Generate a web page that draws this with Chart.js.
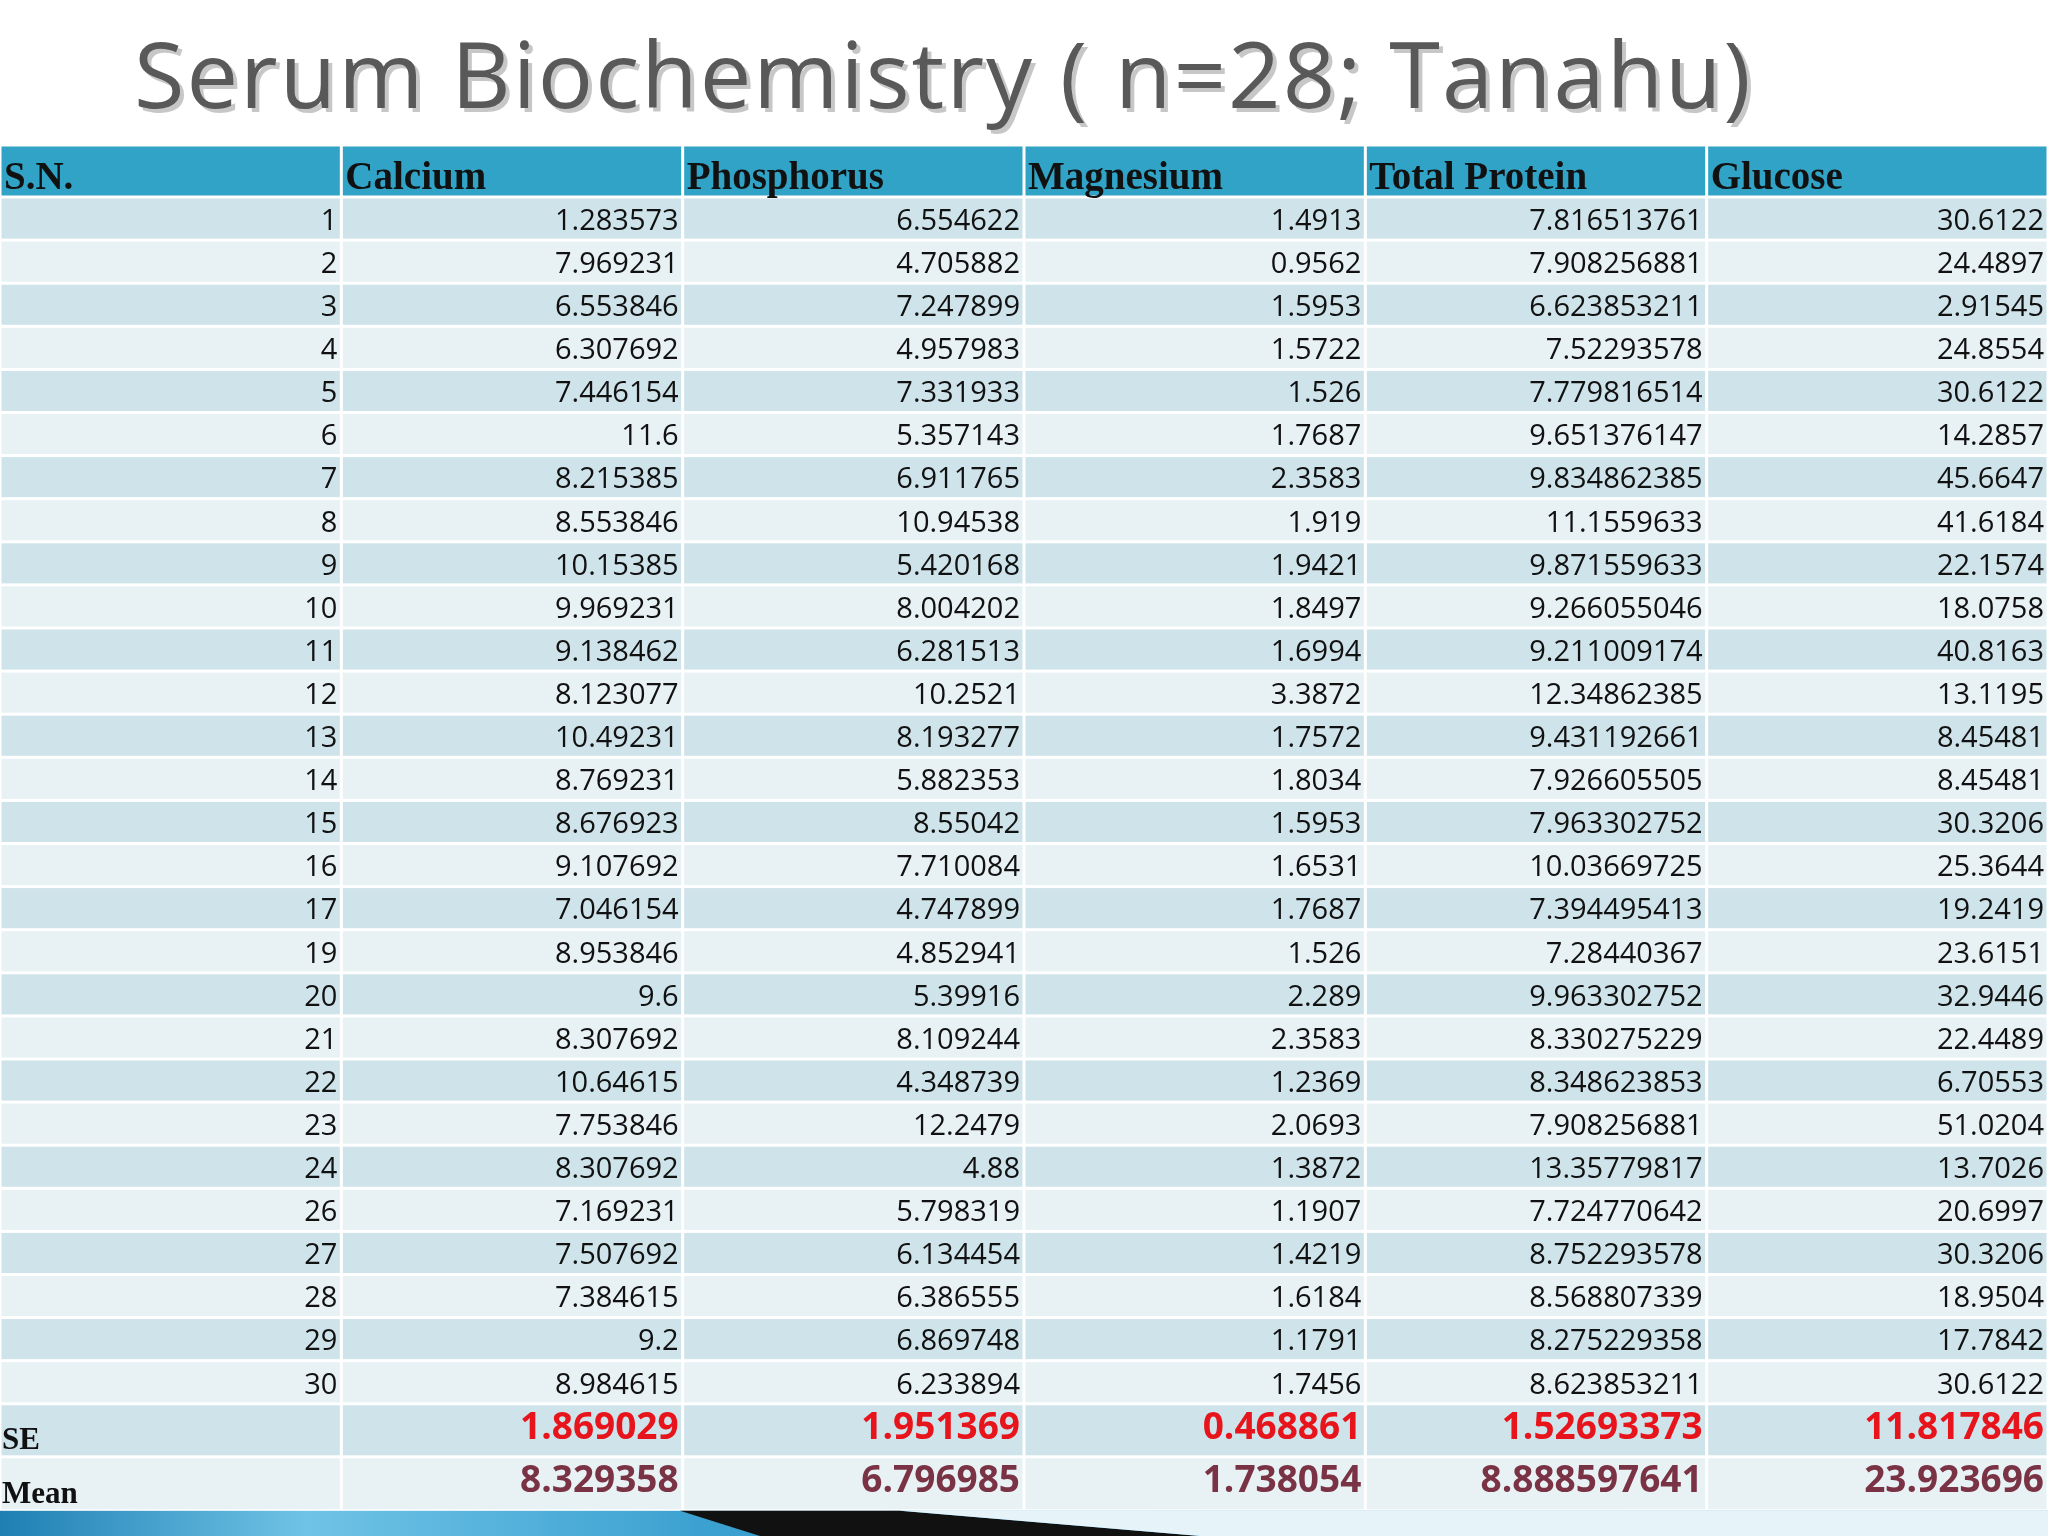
<!DOCTYPE html>
<html>
<head>
<meta charset="utf-8">
<script src="https://cdn.jsdelivr.net/npm/chart.js@4"></script>
<style>
  html, body { margin: 0; padding: 0; background: #fff; }
  #wrap { width: 2048px; height: 1536px; position: relative; }
</style>
</head>
<body>
<div id="wrap"><canvas id="tbl" width="2048" height="1536"></canvas></div>
<script>
var title = "Serum Biochemistry ( n=28; Tanahu)";
var columns = ["S.N.", "Calcium", "Phosphorus", "Magnesium", "Total Protein", "Glucose"];
var sn = ["1","2","3","4","5","6","7","8","9","10","11","12","13","14","15","16","17","19","20","21","22","23","24","26","27","28","29","30"];
var calcium = ["1.283573","7.969231","6.553846","6.307692","7.446154","11.6","8.215385","8.553846","10.15385","9.969231","9.138462","8.123077","10.49231","8.769231","8.676923","9.107692","7.046154","8.953846","9.6","8.307692","10.64615","7.753846","8.307692","7.169231","7.507692","7.384615","9.2","8.984615"];
var phosphorus = ["6.554622","4.705882","7.247899","4.957983","7.331933","5.357143","6.911765","10.94538","5.420168","8.004202","6.281513","10.2521","8.193277","5.882353","8.55042","7.710084","4.747899","4.852941","5.39916","8.109244","4.348739","12.2479","4.88","5.798319","6.134454","6.386555","6.869748","6.233894"];
var magnesium = ["1.4913","0.9562","1.5953","1.5722","1.526","1.7687","2.3583","1.919","1.9421","1.8497","1.6994","3.3872","1.7572","1.8034","1.5953","1.6531","1.7687","1.526","2.289","2.3583","1.2369","2.0693","1.3872","1.1907","1.4219","1.6184","1.1791","1.7456"];
var totalProtein = ["7.816513761","7.908256881","6.623853211","7.52293578","7.779816514","9.651376147","9.834862385","11.1559633","9.871559633","9.266055046","9.211009174","12.34862385","9.431192661","7.926605505","7.963302752","10.03669725","7.394495413","7.28440367","9.963302752","8.330275229","8.348623853","7.908256881","13.35779817","7.724770642","8.752293578","8.568807339","8.275229358","8.623853211"];
var glucose = ["30.6122","24.4897","2.91545","24.8554","30.6122","14.2857","45.6647","41.6184","22.1574","18.0758","40.8163","13.1195","8.45481","8.45481","30.3206","25.3644","19.2419","23.6151","32.9446","22.4489","6.70553","51.0204","13.7026","20.6997","30.3206","18.9504","17.7842","30.6122"];
var seValues = ["1.869029","1.951369","0.468861","1.52693373","11.817846"];
var meanValues = ["8.329358","6.796985","1.738054","8.888597641","23.923696"];

var dataCols = [sn, calcium, phosphorus, magnesium, totalProtein, glucose];
var nRows = sn.length;
// row heights in y units: header, data rows, SE, Mean
var heights = [52];
for (var r = 0; r < nRows; r++) heights.push(43.1);
heights.push(53, 54);
var bounds = [0];
heights.forEach(function (h) { bounds.push(bounds[bounds.length - 1] + h); });
var total = bounds[bounds.length - 1];

var tablePlugin = {
  id: 'tablePlugin',
  beforeDraw: function (chart) {
    var ctx = chart.ctx, xs = chart.scales.x, ys = chart.scales.y;
    ctx.save();
    // title
    ctx.font = "92px 'Open Sans', sans-serif";
    ctx.textBaseline = 'middle';
    ctx.textAlign = 'left';
    ctx.letterSpacing = '2px';
    ctx.fillStyle = 'rgba(0,0,0,0.22)';
    ctx.fillText(title, 138, 86);
    ctx.fillStyle = '#595959';
    ctx.fillText(title, 134, 82);
    ctx.letterSpacing = '0px';

    var nR = heights.length;
    for (var i = 0; i < nR; i++) {
      var y0 = ys.getPixelForValue(bounds[i]), y1 = ys.getPixelForValue(bounds[i + 1]);
      var bg;
      if (i === 0) bg = '#31a3c6';
      else if (i === nR - 2) bg = '#cfe3ea';
      else if (i === nR - 1) bg = '#e8f1f4';
      else bg = (i % 2 === 1) ? '#cfe3ea' : '#e8f1f4';
      for (var c = 0; c < 6; c++) {
        var x0 = xs.getPixelForValue(c), x1 = xs.getPixelForValue(c + 1);
        ctx.fillStyle = bg;
        ctx.fillRect(x0 + 1.5, y0 + 1.5, x1 - x0 - 3, y1 - y0 - 3);
        var txt, font, color, align = 'right', tx = x1 - 4, ty = (y0 + y1) / 2 + 3;
        if (i === 0) {
          txt = columns[c]; font = "bold 39px 'Liberation Serif', serif"; color = '#111';
          align = 'left'; tx = x0 + 4; ty = y1 - 18;
        } else if (i === nR - 2 || i === nR - 1) {
          var isSE = i === nR - 2;
          if (c === 0) {
            txt = isSE ? 'SE' : 'Mean'; font = "bold 31px 'Liberation Serif', serif"; color = '#111';
            align = 'left'; tx = x0 + 2; ty = y1 - 16;
          } else {
            txt = isSE ? seValues[c - 1] : meanValues[c - 1];
            font = "bold 37px 'Open Sans', sans-serif";
            color = isSE ? '#e8141b' : '#7a3345';
            ty = (y0 + y1) / 2 - 2;
          }
        } else {
          txt = dataCols[c][i - 1]; font = "29px 'Open Sans', sans-serif"; color = '#111';
        }
        ctx.font = font; ctx.fillStyle = color; ctx.textAlign = align;
        ctx.fillText(txt, tx, ty);
      }
    }
    // bottom band
    var bTop = ys.getPixelForValue(total);
    var g = ctx.createLinearGradient(0, 0, 2048, 0);
    g.addColorStop(0, '#1f7fb3'); g.addColorStop(0.15, '#6fc3e6'); g.addColorStop(0.35, '#3aa0d0'); g.addColorStop(1, '#2a8fc4');
    ctx.fillStyle = g;
    ctx.fillRect(0, bTop, 2048, 1536 - bTop);
    ctx.fillStyle = '#111';
    ctx.beginPath();
    ctx.moveTo(680, bTop); ctx.lineTo(760, 1536); ctx.lineTo(1200, 1536); ctx.lineTo(900, bTop);
    ctx.closePath(); ctx.fill();
    ctx.fillStyle = '#e6f3f8';
    ctx.beginPath();
    ctx.moveTo(900, bTop); ctx.lineTo(1200, 1536); ctx.lineTo(2048, 1536); ctx.lineTo(2048, bTop);
    ctx.closePath(); ctx.fill();
    ctx.restore();
  }
};

new Chart(document.getElementById('tbl'), {
  type: 'scatter',
  data: { datasets: [{ data: [], pointRadius: 0 }] },
  options: {
    responsive: false,
    animation: false,
    devicePixelRatio: 1,
    layout: { padding: { top: 145, bottom: 1536 - 145 - total, left: 0, right: 0 } },
    plugins: { legend: { display: false }, tooltip: { enabled: false } },
    scales: {
      x: { type: 'linear', min: 0, max: 6, display: false },
      y: { type: 'linear', min: 0, max: total, reverse: true, display: false }
    }
  },
  plugins: [tablePlugin]
});
</script>
</body>
</html>
